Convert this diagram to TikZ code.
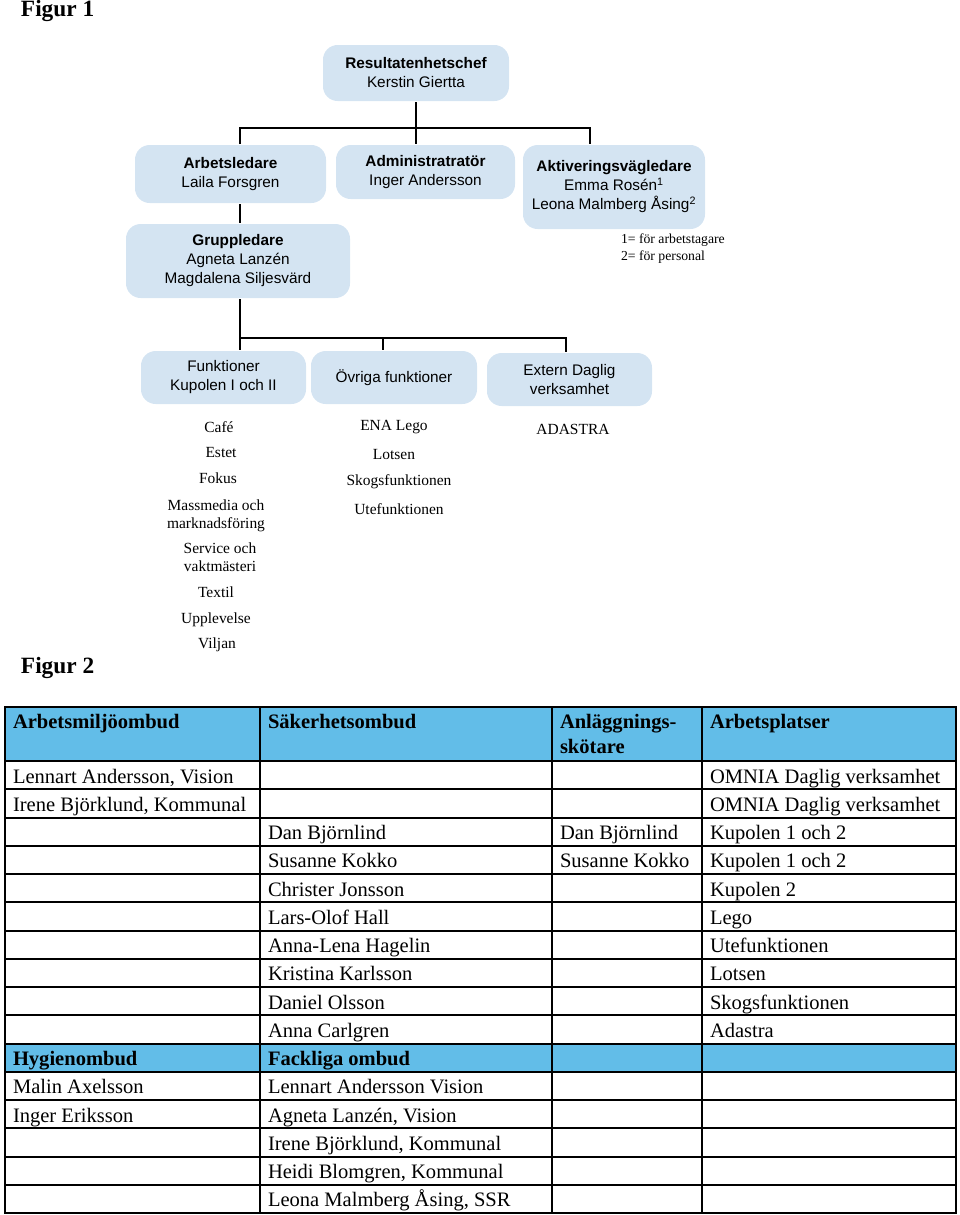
\documentclass[tikz,border=0pt]{standalone}
\usepackage{fontspec}
\setmainfont{Liberation Serif}
\newfontfamily\orgfont{Liberation Sans}
\definecolor{boxblue}{RGB}{212,228,242}
\definecolor{headblue}{RGB}{98,189,232}
\newlength\pxl
\setlength\pxl{0.75pt}
\tikzset{
  orgbox/.style={fill=boxblue, rounded corners=11pt, align=center, inner sep=0pt,
    font=\orgfont\fontsize{11.5}{14.25}\selectfont},
  listtext/.style={inner sep=0pt, align=center, font=\fontsize{11.6}{13.5}\selectfont},
  notetext/.style={anchor=west, inner sep=0pt, font=\fontsize{10.3}{12}\selectfont},
  cell/.style={anchor=base west, inner sep=0pt, font=\fontsize{15.4}{18.75}\selectfont},
  headcell/.style={cell, align=left, font=\bfseries\fontsize{15.4}{18.75}\selectfont},
  figtitle/.style={anchor=west, inner sep=0pt, font=\bfseries\fontsize{17.5}{20}\selectfont}
}

\begin{document}
\begin{tikzpicture}[x=0.75pt,y=-0.75pt,line width=1.5pt]
   \useasboundingbox (0,0) rectangle (960,1215);

   \node[figtitle] (fig1) at (20,11) {Figur 1};
   \node[figtitle] (fig2) at (20,668) {Figur 2};

   % org chart
   \node[orgbox, minimum width=186\pxl, minimum height=56\pxl] (chef) at (416,73)
      {\textbf{Resultatenhetschef}\\Kerstin Giertta};
   \node[orgbox, minimum width=191\pxl, minimum height=58\pxl] (arb) at (230.5,174)
      {\textbf{Arbetsledare}\\Laila Forsgren};
   \node[orgbox, minimum width=179\pxl, minimum height=54\pxl] (adm) at (425.5,172)
      {\textbf{Administratratör}\\Inger Andersson};
   \node[orgbox, minimum width=182\pxl, minimum height=84\pxl] (akt) at (614,187)
      {\textbf{Aktiveringsvägledare}\\Emma Rosén\textsuperscript{1}\\Leona Malmberg Åsing\textsuperscript{2}};
   \node[orgbox, minimum width=224\pxl, minimum height=74\pxl] (grp) at (238,261)
      {\textbf{Gruppledare}\\Agneta Lanzén\\Magdalena Siljesvärd};
   \node[orgbox, minimum width=165\pxl, minimum height=53\pxl] (fun) at (223.5,377.5)
      {Funktioner\\Kupolen I och II};
   \node[orgbox, minimum width=166\pxl, minimum height=53\pxl] (ovr) at (394,377.5)
      {Övriga funktioner};
   \node[orgbox, minimum width=165\pxl, minimum height=53\pxl] (ext) at (569.5,379.5)
      {Extern Daglig\\verksamhet};

   \node[notetext] (note1) at (620,240) {1= för arbetstagare};
   \node[notetext] (note2) at (620,257) {2= för personal};

   \coordinate (bus1) at (416,128);
   \coordinate (bus1L) at (240,128);
   \coordinate (bus1R) at (590,128);
   \coordinate (bus2L) at (240,338);
   \coordinate (bus2M) at (383,338);
   \coordinate (bus2R) at (566,338);

   \draw (chef.south) -- (bus1 |- adm.north);
   \draw (bus1L |- arb.north) -- (bus1L) -- (bus1R) -- (bus1R |- akt.north);
   \draw (bus1L |- arb.south) -- (bus1L |- grp.north);
   \draw (bus1L |- grp.south) -- (bus2L |- fun.north);
   \draw (bus2L) -- (bus2R) -- (bus2R |- ext.north);
   \draw (bus2M) -- (bus2M |- ovr.north);

   % functions
   \node[listtext] (cafe) at (219,427) {Café};
   \node[listtext] (estet) at (221,453) {Estet};
   \node[listtext] (fokus) at (218,478) {Fokus};
   \node[listtext] (massmedia) at (216,516) {Massmedia och\\marknadsföring};
   \node[listtext] (service) at (220,557) {Service och\\vaktmästeri};
   \node[listtext] (textil) at (216,592) {Textil};
   \node[listtext] (upplevelse) at (216,620) {Upplevelse};
   \node[listtext] (viljan) at (217,645) {Viljan};

   \node[listtext] (lego) at (394,427) {ENA Lego};
   \node[listtext] (lotsen) at (394,455) {Lotsen};
   \node[listtext] (skog) at (399,482) {Skogsfunktionen};
   \node[listtext] (ute) at (399,509) {Utefunktionen};

   \node[listtext] (adastra) at (573,429) {ADASTRA};

   % table
   \fill[headblue] (5,707) rectangle (956,761);
   \fill[headblue] (5,1043.5) rectangle (956,1071.75);
   \foreach \r in {0,...,15}
      \draw (5,{761+28.25*\r}) -- (956,{761+28.25*\r});
   \foreach \x in {260,552,702}
      \draw (\x,707) -- (\x,1213);
   \draw (5,707) rectangle (956,1213);

   \node[headcell] (h1) at (12,728) {Arbetsmiljöombud};
   \node[headcell] (h2) at (267,728) {Säkerhetsombud};
   \node[headcell] (h3) at (559,753) {Anläggnings-\\skötare};
   \node[headcell] (h4) at (709,728) {Arbetsplatser};
   \node[headcell] (h5) at (12,1065.5) {Hygienombud};
   \node[headcell] (h6) at (267,1065.5) {Fackliga ombud};

   \foreach \r/\t in {0/{Lennart Andersson, Vision}, 1/{Irene Björklund, Kommunal},
         11/Malin Axelsson, 12/Inger Eriksson}
      \node[cell] (a\r) at (12,{783+28.25*\r}) {\t};
   \foreach \r/\t in {2/Dan Björnlind, 3/Susanne Kokko, 4/Christer Jonsson,
         5/Lars-Olof Hall, 6/Anna-Lena Hagelin, 7/Kristina Karlsson,
         8/Daniel Olsson, 9/Anna Carlgren, 11/Lennart Andersson Vision,
         12/{Agneta Lanzén, Vision}, 13/{Irene Björklund, Kommunal},
         14/{Heidi Blomgren, Kommunal}, 15/{Leona Malmberg Åsing, SSR}}
      \node[cell] (b\r) at (267,{783+28.25*\r}) {\t};
   \foreach \r/\t in {2/Dan Björnlind, 3/Susanne Kokko}
      \node[cell] (c\r) at (559,{783+28.25*\r}) {\t};
   \foreach \r/\t in {0/OMNIA Daglig verksamhet, 1/OMNIA Daglig verksamhet,
         2/Kupolen 1 och 2, 3/Kupolen 1 och 2, 4/Kupolen 2, 5/Lego,
         6/Utefunktionen, 7/Lotsen, 8/Skogsfunktionen, 9/Adastra}
      \node[cell] (d\r) at (709,{783+28.25*\r}) {\t};
\end{tikzpicture}
\end{document}
